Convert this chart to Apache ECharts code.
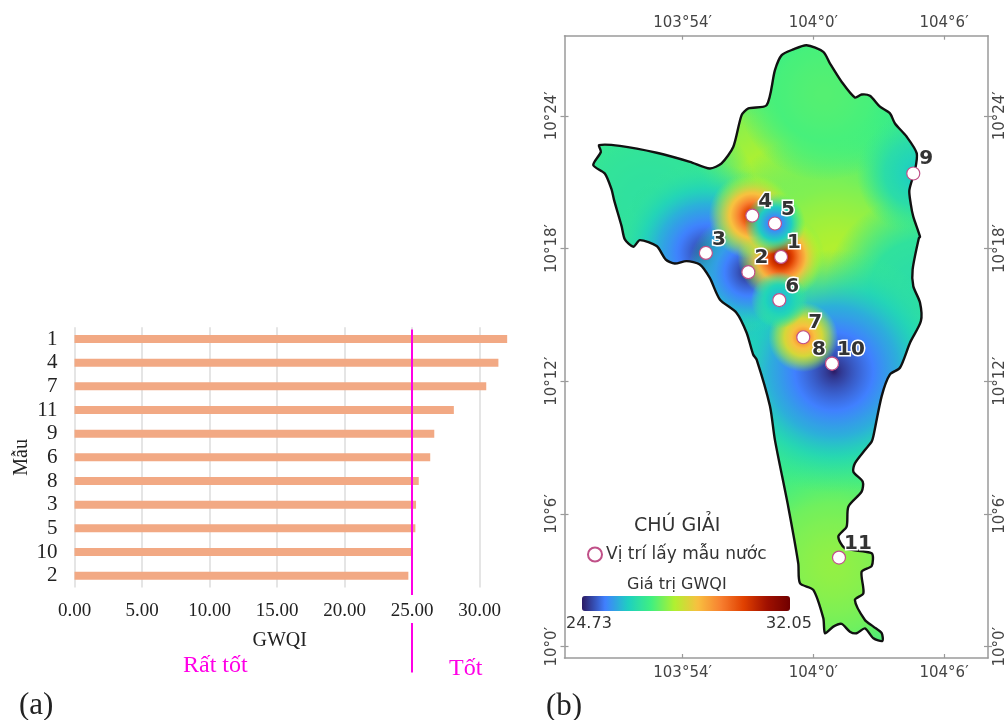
<!DOCTYPE html>
<html><head><meta charset="utf-8">
<style>html,body{margin:0;padding:0;background:#fff}#c{width:1005px;height:720px}</style>
<script src="https://cdn.jsdelivr.net/npm/echarts@6/dist/echarts.min.js"></script>
</head><body><div id="c"></div>
<script>
// ---------- panel (a) data ----------
const barCategories = ['1','4','7','11','9','6','8','3','5','10','2'];
const barValues = [32.05,31.4,30.5,28.1,26.65,26.35,25.5,25.3,25.25,24.95,24.73];
const threshold = 25;
// ---------- panel (b) data: minutes past 103 deg E, minutes past 10 deg N ----------
const lonTicks = [54,60,66];
const latTicks = [0,6,12,18,24];
const sampleIds = ['1','2','3','4','5','6','7','8','9','10','11'];
const sampleLon = [58.52,57.02,55.07,57.20,58.24,58.44,59.54,60.86,64.59,60.86,61.18];
const sampleLat = [17.62,16.93,17.80,19.49,19.13,15.67,13.99,12.80,21.39,12.80,4.03];
const labelOffsets = [[13,-14],[13,-14],[13,-13],[13,-14],[13,-14],[13,-13],[12,-14],[-13,-14],[13,-15],[19,-14],[19,-14]];
const outlineLon = [59.69,60.46,60.77,61.30,61.91,62.22,62.60,63.06,63.52,63.75,64.29,64.75,64.67,64.41,64.47,64.59,64.90,64.85,64.56,64.59,64.90,64.94,64.44,63.98,63.52,63.14,62.76,62.68,62.37,61.91,61.84,62.27,62.22,61.61,61.53,61.15,61.45,62.68,62.68,62.22,62.30,61.91,62.37,62.76,63.14,63.17,62.76,62.37,61.99,61.68,61.30,60.92,60.54,60.46,60.00,59.39,59.31,58.85,58.24,58.01,57.40,57.24,56.94,56.48,55.71,55.25,54.79,54.18,53.64,53.23,52.81,52.04,51.74,51.35,51.20,50.85,50.74,50.43,49.90,50.25,50.17,51.12,52.81,54.34,55.25,55.79,56.33,56.71,57.02,57.86,58.24,58.55,59.08];
const outlineLat = [27.19,26.89,26.36,25.54,24.83,24.96,24.90,24.41,24.11,23.65,23.05,22.30,21.55,20.64,20.04,19.44,18.53,18.48,17.05,16.30,15.55,14.72,13.74,12.61,12.31,11.33,9.52,9.27,8.89,8.29,7.91,7.46,7.01,6.33,5.43,4.98,4.45,4.22,3.65,3.39,2.42,2.11,1.21,0.91,0.61,0.26,0.38,0.83,0.61,0.68,1.03,0.91,0.61,1.29,2.57,2.87,3.77,6.33,9.34,10.88,12.98,13.21,14.19,15.09,15.70,16.67,17.28,17.43,17.32,17.50,18.11,18.38,18.08,18.41,19.01,20.21,20.67,21.39,21.77,22.37,22.67,22.64,22.33,21.92,21.62,21.85,22.60,24.03,24.33,24.48,26.06,26.74,27.00];
// surface: lon, lat, centre GWQI, rim GWQI, reach (minutes), falloff
const fieldLon  = [58.0,61.0,60.5,60.9,52.5,65.0,64.8,56.0,60.95,55.07,57.02,58.52,57.20,59.54,58.24,58.44];
const fieldLat  = [20.6,17.5,25.0,3.6,20.0,16.0,21.4,16.0,12.45,17.80,16.93,17.62,19.49,13.99,19.13,15.67];
const fieldCore = [28.7,28.65,27.95,28.4,27.4,27.3,26.9,26.2,24.73,24.85,24.73,32.05,31.4,30.5,25.2,26.4];
const fieldRim  = [27.7,27.7,27.7,27.75,27.65,27.65,27.65,27.65,27.65,27.6,27.3,28.2,28.2,28.2,27.9,27.6];
const fieldReach= [6.5,6.0,4.0,5.5,5.0,4.5,2.8,4.0,5.6,4.2,2.8,2.0,2.0,1.6,1.4,1.3];
const fieldFall = [1.5,1.5,1.5,1.5,1.5,1.5,1.0,1.5,0.7,0.7,0.7,0.8,0.8,0.8,0.7,0.8];
const baseValue = 27.65;
const scaleMin = 24.73, scaleMax = 32.05;
const rampStops = [0,0.18,0.31,0.42,0.53,0.66,0.74,0.82,0.92,1];
const rampColors = ['#2B1A63','#4080FF','#1ED0C0','#40F080','#B0F030','#F8C040','#F88030','#E04000','#A01000','#700000'];

const hex = c => [1,3,5].map(i => parseInt(c.substr(i,2),16));
function ramp(v,a){
  const t = Math.max(0,Math.min(1,(v-scaleMin)/(scaleMax-scaleMin)));
  let i = 0; while(i<rampStops.length-2 && t>rampStops[i+1]) i++;
  const f = (t-rampStops[i])/(rampStops[i+1]-rampStops[i]);
  const A = hex(rampColors[i]), B = hex(rampColors[i+1]);
  const m = A.map((x,k)=>Math.round(x+(B[k]-x)*f));
  return 'rgba('+m[0]+','+m[1]+','+m[2]+','+(a===undefined?1:a)+')';
}
const serif = '"Liberation Serif",serif', sans = '"DejaVu Sans",sans-serif';
const barGrid = {left:74.5, top:327.2, width:472.5, height:260.3};
const mapGrid = {left:564.5, top:35.7, width:423.5, height:622.3, outerBoundsMode:'none'};
const lonRange = {min:48.58, max:68.02}, latRange = {min:-0.51, max:27.62};
const fmtLon = v => (v>=60?"104°"+(v-60):"103°"+v)+"′";
const fmtLat = v => "10°"+v+"′";
const frame = {show:true,onZero:false,lineStyle:{color:'#9a9a9a',width:1.5}};
const tickStyle = {color:'#9a9a9a',width:1.2};
const mapLabel = {color:'#444',fontFamily:sans,fontSize:15};

const mapX = (pos)=>({type:'value',gridIndex:1,position:pos,...lonRange,axisLine:frame,splitLine:{show:false},
  axisTick:{show:true,inside:true,length:4,lineStyle:tickStyle,customValues:lonTicks},
  axisLabel:{...mapLabel,margin:pos==='top'?5:8,customValues:lonTicks,formatter:fmtLon}});
const mapY = (pos)=>({type:'value',gridIndex:1,position:pos,...latRange,axisLine:frame,splitLine:{show:false},
  axisTick:{show:true,inside:false,length:4,lineStyle:tickStyle,customValues:latTicks},
  axisLabel:{...mapLabel,rotate:90,margin:5,hideOverlap:false,customValues:latTicks,formatter:fmtLat}});
const mapYInner = (pos)=>({type:'value',gridIndex:1,position:pos,...latRange,axisLine:{show:false},splitLine:{show:false},
  axisTick:{show:true,inside:true,length:4,lineStyle:tickStyle,customValues:latTicks},axisLabel:{show:false}});

function outlineShape(api){ return {points:outlineLon.map((x,i)=>api.coord([x,outlineLat[i]])),smooth:0.25}; }

const option = {
  animation:false, backgroundColor:'#fff',
  grid:[
    {...barGrid},
    {...mapGrid},
    {left:barGrid.left,width:barGrid.width,top:329.5,height:343}
  ],
  xAxis:[
    {type:'value',gridIndex:0,min:0,max:35,interval:5,axisLine:{show:false},axisTick:{show:false},
     splitLine:{show:true,showMaxLine:false,lineStyle:{color:'#dcdcdc',width:1.5}},
     axisLabel:{show:true,showMaxLabel:false,color:'#222',fontFamily:serif,fontSize:19,margin:14,formatter:v=>v.toFixed(2)},
     name:'GWQI',nameLocation:'middle',nameGap:43,nameTextStyle:{color:'#222',fontFamily:serif,fontSize:20,padding:[0,62,0,0]}},
    mapX('bottom'), mapX('top'),
    {type:'value',gridIndex:2,min:0,max:35,show:false}
  ],
  yAxis:[
    {type:'category',gridIndex:0,data:barCategories,inverse:true,axisLine:{show:false},axisTick:{show:false},
     axisLabel:{color:'#222',fontFamily:serif,fontSize:21,margin:17,interval:0},
     name:'Mẫu',nameLocation:'middle',nameRotate:90,nameGap:43,nameTextStyle:{color:'#222',fontFamily:serif,fontSize:20}},
    mapY('left'), mapY('right'), mapYInner('left'), mapYInner('right'),
    {type:'value',gridIndex:2,min:0,max:1,show:false}
  ],
  visualMap:{type:'continuous',seriesIndex:3,dimension:2,min:scaleMin,max:scaleMax,orient:'horizontal',
    left:582,top:596,itemWidth:15,itemHeight:208,padding:0,calculable:false,showLabel:false,text:null,hoverLink:false,
    inRange:{color:rampColors}},
  legend:{show:true,left:587,top:546,padding:0,itemWidth:14,itemHeight:14,icon:'circle',data:['Vị trí lấy mẫu nước'],
    textStyle:{color:'#333',fontFamily:sans,fontSize:17,padding:[0,0,0,-1]},selectedMode:false},
  series:[
    {type:'bar',xAxisIndex:0,yAxisIndex:0,data:barValues,barWidth:8,itemStyle:{color:'#F2A984'},silent:true},
    {type:'line',xAxisIndex:3,yAxisIndex:5,silent:true,symbol:'none',connectNulls:false,z:5,
     lineStyle:{color:'#FF00E6',width:2},
     data:[[threshold,0],[threshold,0.144],['-','-'],[threshold,0.226],[threshold,1]]},
    {type:'custom',name:'island',xAxisIndex:1,yAxisIndex:1,silent:true,z:2,
     data:outlineLon.map((x,i)=>[x,outlineLat[i]]),
     renderItem:(p,api)=> p.dataIndex!==0?null:{type:'polygon',shape:outlineShape(api),style:{fill:ramp(baseValue),stroke:null}}},
    {type:'custom',name:'field',xAxisIndex:1,yAxisIndex:1,silent:true,z:3,
     encode:{x:0,y:1},
     data:fieldLon.map((x,i)=>[x,fieldLat[i],fieldCore[i],fieldRim[i],fieldReach[i],fieldFall[i]]),
     renderItem:(p,api)=>{
       const c = api.coord([api.value(0),api.value(1)]);
       const r = api.size([api.value(4),0])[0];
       const core = api.value(2), rim = api.value(3), fall = api.value(5);
       const colorStops = [];
       for(let k=0;k<=28;k++){
         const s=k/28, v=core+(rim-core)*Math.pow(s,fall);
         colorStops.push({offset:s,color:ramp(v,Math.min(1,1.4*(1-s*s)))});
       }
       return {type:'circle',shape:{cx:c[0],cy:c[1],r:r},clipPath:{type:'polygon',shape:outlineShape(api)},
         style:{fill:{type:'radial',x:0.5,y:0.5,r:0.5,colorStops}}};
     }},
    {type:'custom',name:'coast',xAxisIndex:1,yAxisIndex:1,silent:true,z:4,
     data:outlineLon.map((x,i)=>[x,outlineLat[i]]),
     renderItem:(p,api)=> p.dataIndex!==0?null:{type:'polygon',shape:outlineShape(api),style:{fill:null,stroke:'#111',lineWidth:2.4,lineJoin:'round'}}},
    {type:'scatter',name:'Vị trí lấy mẫu nước',xAxisIndex:1,yAxisIndex:1,z:6,silent:true,symbolSize:13,
     itemStyle:{color:'#fff',borderColor:'#C05088',borderWidth:1.2,opacity:1},
     label:{show:true,position:'inside',formatter:'{b}',color:'#333',fontFamily:sans,fontWeight:'bold',fontSize:20,textBorderColor:'#fff',textBorderWidth:3},
     data:sampleIds.map((id,i)=>({name:id,value:[sampleLon[i],sampleLat[i]],label:{offset:labelOffsets[i]}}))}
  ],
  graphic:[
    {type:'text',left:183,top:654,style:{text:'Rất tốt',fill:'#FF00E6',font:'24px '+serif}},
    {type:'text',left:449,top:657,style:{text:'Tốt',fill:'#FF00E6',font:'24px '+serif}},
    {type:'text',left:19,top:690,style:{text:'(a)',fill:'#222',font:'31px '+serif}},
    {type:'text',left:546,top:691,style:{text:'(b)',fill:'#222',font:'31px '+serif}},
    {type:'text',left:634,top:517,style:{text:'CHÚ GIẢI',fill:'#333',font:'19px '+sans}},
    {type:'text',left:627,top:577,style:{text:'Giá trị GWQI',fill:'#333',font:'16px '+sans}},
    {type:'text',left:566,top:616,style:{text:String(scaleMin),fill:'#333',font:'16px '+sans}},
    {type:'text',left:766,top:616,style:{text:String(scaleMax),fill:'#333',font:'16px '+sans}}
  ]
};
echarts.init(document.getElementById('c'),null,{renderer:'canvas'}).setOption(option);
</script></body></html>
